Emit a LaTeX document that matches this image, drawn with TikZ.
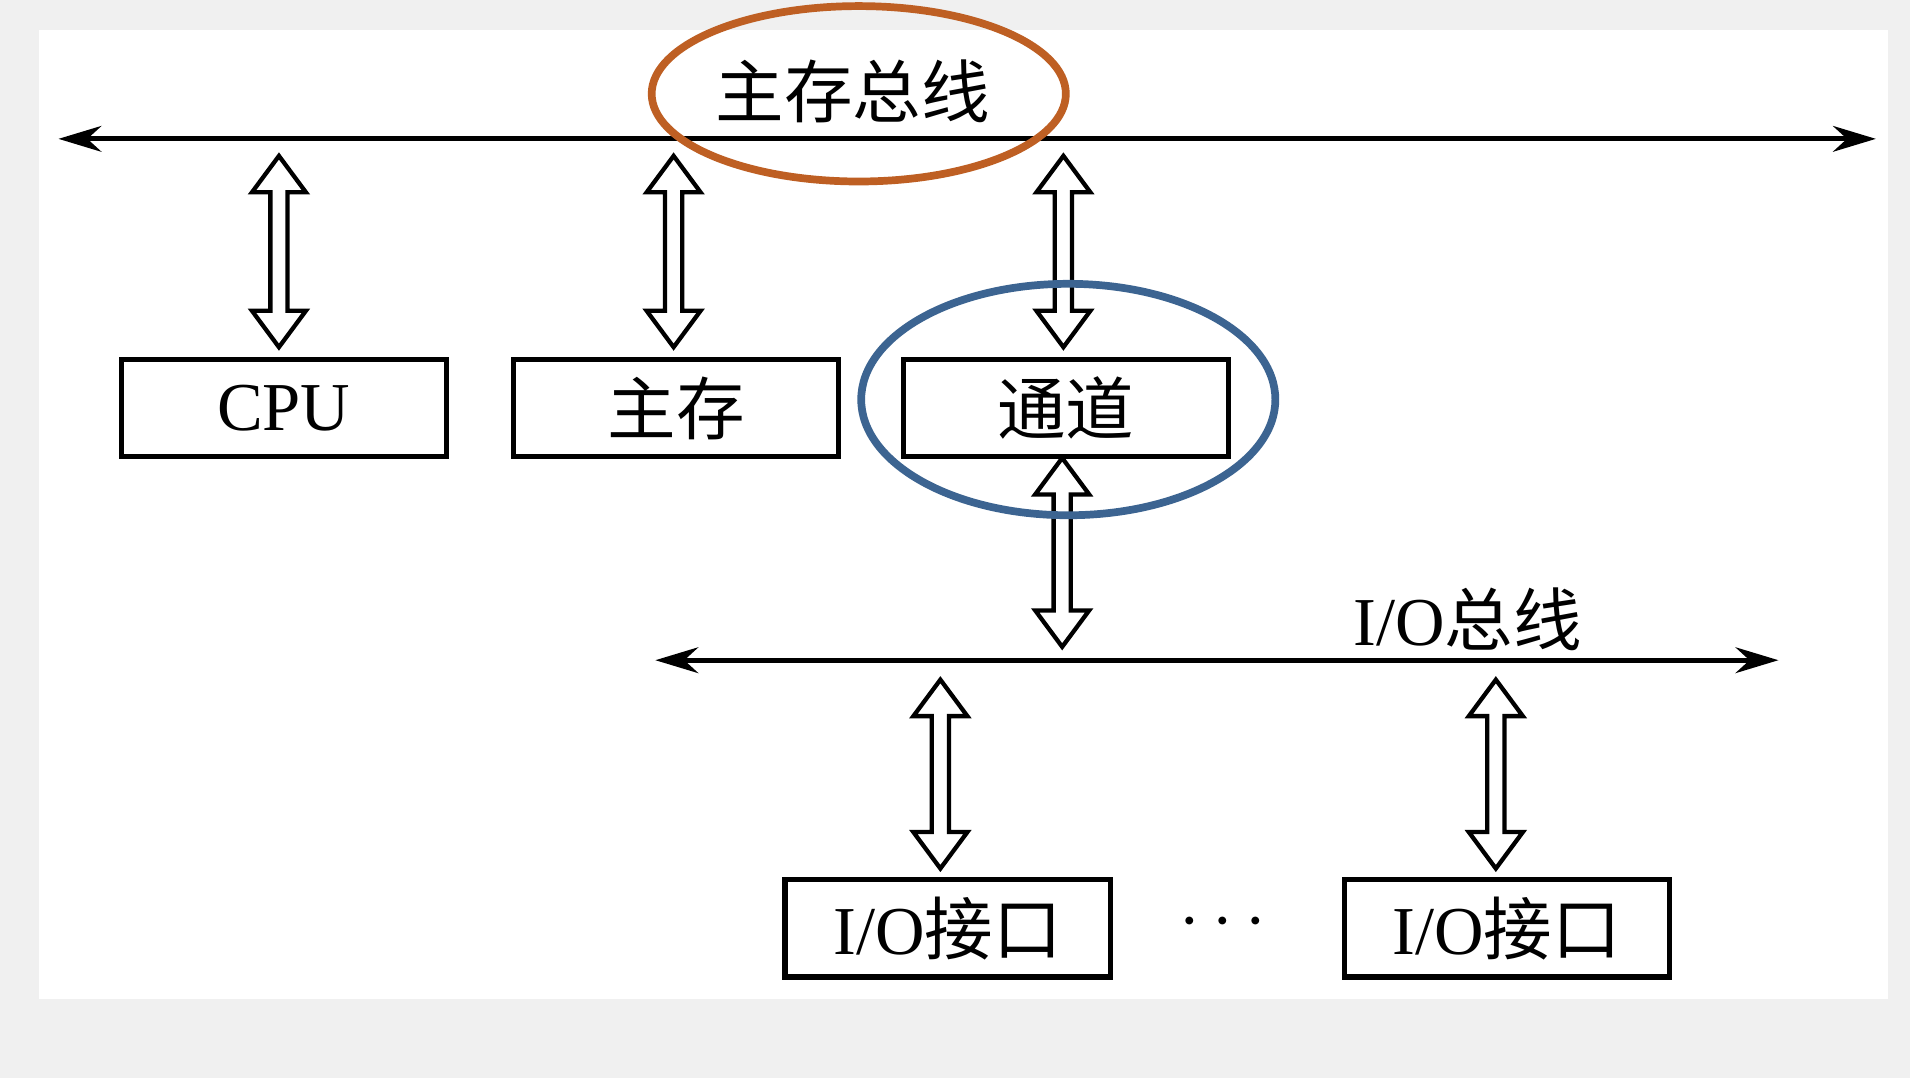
\documentclass[tikz,border=0pt]{standalone}
\usepackage{fontspec}
\setmainfont{Liberation Serif}
\newfontfamily\cjk{Noto Sans CJK SC}
\usetikzlibrary{arrows.meta, positioning, calc}
\definecolor{ringorange}{RGB}{190,95,35}
\definecolor{ringblue}{RGB}{60,100,145}
\tikzset{
    box/.style={draw, line width=1.2pt, minimum width=2.67cm, minimum height=0.8cm, font=\fontsize{16}{18}\selectfont},
    bus/.style={line width=1.2pt, {Stealth[length=10pt,width=6pt]}-{Stealth[length=10pt,width=6pt]}},
    link/.style={draw, line width=1pt, fill=white, line join=miter},
    ring/.style={line width=1.8pt},
}
% hollow two-headed arrow from upper point #1 to lower point #2
\newcommand\dblink[2]{%
    \draw[link] let \p1=#1, \p2=#2 in
        (\x1,\y1) -- (\x1+6.3pt,\y1-8.5pt) -- (\x1+2pt,\y1-8.5pt) -- (\x1+2pt,\y2+8.5pt)
        -- (\x1+6.3pt,\y2+8.5pt) -- (\x1,\y2) -- (\x1-6.3pt,\y2+8.5pt) -- (\x1-2pt,\y2+8.5pt)
        -- (\x1-2pt,\y1-8.5pt) -- (\x1-6.3pt,\y1-8.5pt) -- cycle;}
\begin{document}
\begin{tikzpicture}[x=0.01cm, y=-0.01cm]
    \useasboundingbox[fill=black!6] (0,0) rectangle (1568,885);
    \fill[white] (32,25) rectangle (1550,820);

    % main bus
    \coordinate (mL) at (48,114);
    \coordinate (mR) at (1540,114);
    \draw[bus] (mL) -- (mR);
    \node[font=\cjk\fontsize{16}{18}\selectfont] (mlabel) at (700,75) {主存总线};

    \node[box] (cpu) at (233,335) {CPU};
    \node[box] (mem) at (555,335) {\cjk 主存};
    \node[box] (chan) at (875,335) {\cjk 通道};

    \coordinate (t1) at (229,128);
    \coordinate (t2) at (553,128);
    \coordinate (t3) at (873,128);
    \coordinate (u1) at (229,285);
    \coordinate (u2) at (553,285);
    \coordinate (u3) at (873,285);
    \dblink{(t1)}{(u1)}
    \dblink{(t2)}{(u2)}
    \dblink{(t3)}{(u3)}

    % I/O bus
    \coordinate (iL) at (538,542);
    \coordinate (iR) at (1460,542);
    \draw[bus] (iL) -- (iR);
    \node[font=\fontsize{16}{18}\selectfont] (iolabel) at (1205,508) {I/O{\cjk 总线}};
    \coordinate (c0) at (872,376);
    \coordinate (b0) at (872,531);
    \dblink{(c0)}{(b0)}

    \node[box] (io1) at (778,762) {I/O{\cjk 接口}};
    \node[box] (io2) at (1237,762) {I/O{\cjk 接口}};
    \node[font=\fontsize{16}{18}\selectfont] (dots) at (1004,758) {$\cdots$};
    \coordinate (b1) at (772,558);
    \coordinate (b2) at (1228,558);
    \coordinate (d1) at (772,713);
    \coordinate (d2) at (1228,713);
    \dblink{(b1)}{(d1)}
    \dblink{(b2)}{(d2)}

    % highlight rings
    \draw[ring, ringorange] (705,77) ellipse [x radius=170, y radius=72];
    \draw[ring, ringblue] (877,328) ellipse [x radius=170, y radius=95];
\end{tikzpicture}
\end{document}
